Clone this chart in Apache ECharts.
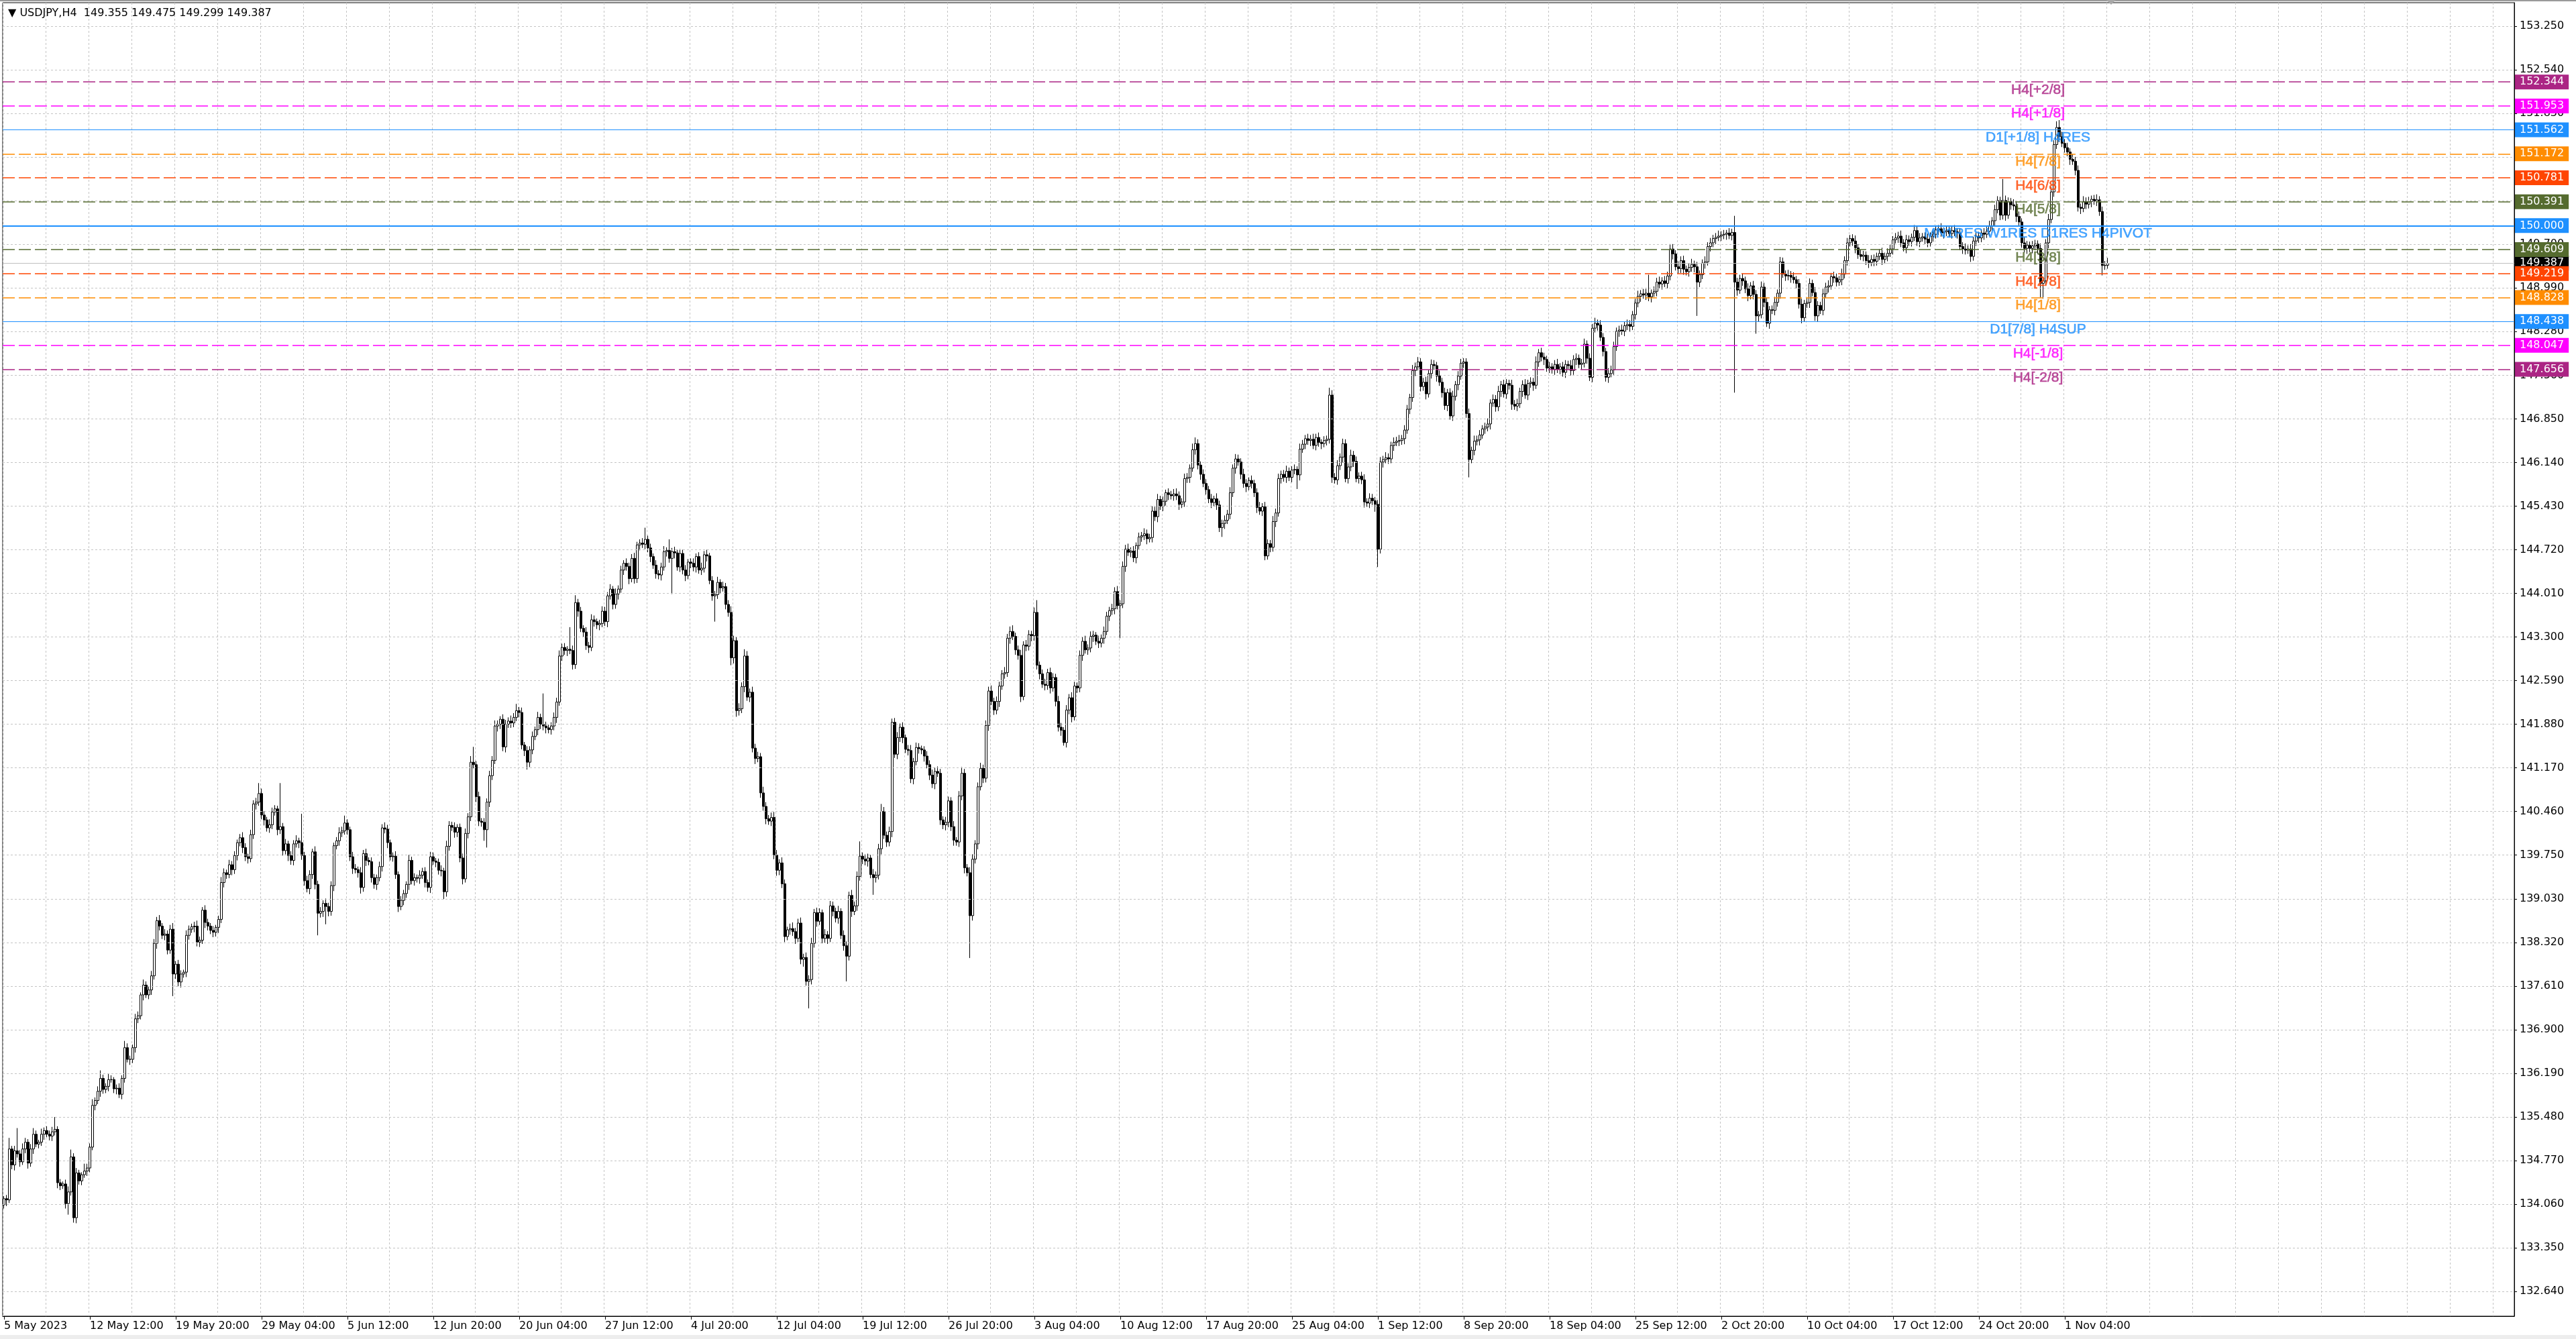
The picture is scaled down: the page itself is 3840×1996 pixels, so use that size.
<!DOCTYPE html>
<html>
<head>
<meta charset="utf-8">
<title>USDJPY,H4</title>
<script src="https://cdn.jsdelivr.net/npm/echarts@6.0.0/dist/echarts.min.js"></script>
<style>
html,body{margin:0;padding:0;background:#fff;}
#main{width:3840px;height:1996px;}
</style>
</head>
<body>
<div id="main"></div>
<script>
// last bar O H L C (header)
var lastBar = [149.355, 149.475, 149.299, 149.387];
var firstOpen = 134.05;

// H4 closes, 32 bars per line (one x label step)
var closes = [
134.15,134.13,134.96,134.70,134.93,134.88,134.75,134.96,135.07,134.73,134.96,135.20,135.04,135.07,135.20,135.26,135.20,135.17,135.24,135.28,134.41,134.36,134.39,134.07,134.26,134.83,133.84,134.57,134.44,134.54,134.60,134.65,
134.99,135.67,135.75,135.90,136.11,135.93,135.98,136.09,136.09,135.94,135.95,135.85,136.11,136.61,136.42,136.42,136.61,137.08,137.13,137.47,137.63,137.47,137.55,137.78,138.31,138.68,138.59,138.44,138.46,138.20,138.54,137.81,
137.97,137.68,137.81,137.84,138.44,138.54,138.58,138.59,138.33,138.36,138.85,138.65,138.59,138.52,138.49,138.57,138.70,139.30,139.46,139.43,139.59,139.51,139.74,139.95,140.03,139.87,139.72,139.69,140.08,140.58,140.61,140.75,
140.40,140.32,140.19,140.24,140.45,140.50,140.16,140.21,139.82,139.93,139.74,139.66,139.93,139.98,139.95,139.74,139.33,139.20,139.43,139.80,139.27,138.80,138.83,138.96,138.91,138.83,139.25,139.90,139.98,140.11,140.14,140.27,
140.16,139.72,139.53,139.51,139.46,139.22,139.77,139.66,139.64,139.38,139.27,139.38,139.56,140.19,140.17,139.95,139.72,139.73,139.43,138.91,139.01,139.12,139.27,139.66,139.33,139.38,139.37,139.42,139.48,139.30,139.22,139.72,
139.65,139.63,139.50,139.49,139.15,139.89,140.23,140.20,140.12,140.20,139.70,139.36,140.10,140.37,141.26,141.22,140.70,140.30,140.28,140.16,140.61,141.04,141.29,141.85,141.88,141.96,141.51,141.88,141.93,141.90,141.99,142.10,
142.07,141.54,141.45,141.26,141.46,141.68,141.79,141.99,141.88,141.85,141.82,141.79,141.85,141.99,142.24,142.99,143.13,143.08,143.10,143.08,142.85,143.86,143.72,143.44,143.38,143.16,143.13,143.58,143.55,143.50,143.52,143.72,
143.55,143.97,144.08,143.83,144.00,144.08,144.39,144.50,144.45,144.25,144.58,144.25,144.80,144.83,144.81,144.89,144.75,144.61,144.47,144.33,144.31,144.44,144.69,144.71,144.58,144.69,144.67,144.44,144.66,144.39,144.30,144.52,
144.50,144.44,144.61,144.39,144.42,144.64,144.62,144.22,143.97,143.99,144.19,144.10,144.12,143.83,143.70,142.96,143.24,142.10,142.13,142.49,142.99,142.32,142.40,141.49,141.32,141.35,140.76,140.54,140.34,140.30,140.36,139.75,
139.50,139.62,139.28,138.42,138.53,138.55,138.50,138.39,138.64,138.05,138.08,137.69,137.72,138.31,138.81,138.67,138.81,138.39,138.45,138.39,138.92,138.83,138.72,138.83,138.44,138.27,138.10,139.09,138.83,138.92,139.40,139.73,
139.68,139.65,139.70,139.43,139.38,139.42,139.85,140.46,140.07,139.96,140.13,141.91,141.39,141.66,141.83,141.66,141.47,141.45,140.99,141.27,141.50,141.48,141.46,141.36,141.22,141.05,140.91,141.11,141.08,140.32,140.24,140.28,
140.63,140.21,139.99,139.96,140.71,141.08,139.54,139.46,138.76,139.68,139.93,140.86,141.16,141.00,141.86,142.42,142.25,142.11,142.25,142.50,142.70,142.72,143.28,143.39,143.31,143.09,143.00,142.33,143.17,143.15,143.34,143.32,
143.70,142.84,142.70,142.53,142.51,142.72,142.47,142.64,142.25,141.83,141.78,141.58,142.11,142.31,142.00,142.50,142.47,143.00,143.23,143.09,143.12,143.31,143.33,143.23,143.20,143.28,143.39,143.64,143.73,143.76,144.04,143.81,
143.84,144.45,144.73,144.68,144.70,144.59,144.79,144.93,144.95,144.98,144.90,144.92,145.35,145.26,145.54,145.43,145.51,145.65,145.62,145.60,145.63,145.60,145.46,145.50,145.88,145.90,146.05,146.35,146.45,146.10,145.95,145.80,
145.70,145.55,145.49,145.55,145.45,145.08,145.15,145.20,145.30,145.65,146.05,146.20,146.15,145.95,145.80,145.75,145.85,145.80,145.65,145.41,145.35,145.42,144.62,144.82,144.76,145.18,145.32,145.88,145.95,145.90,146.00,145.90,
146.02,146.03,145.94,146.36,146.44,146.53,146.50,146.52,146.42,146.55,146.47,146.45,146.50,146.52,147.24,145.90,145.86,146.09,146.23,146.45,145.88,146.07,146.26,146.16,145.88,145.92,145.86,145.50,145.48,145.56,145.52,145.46,
144.73,146.15,146.19,146.22,146.20,146.42,146.47,146.49,146.50,146.53,146.67,147.01,147.20,147.64,147.70,147.78,147.38,147.45,147.26,147.59,147.74,147.72,147.55,147.45,147.28,147.07,147.28,146.90,147.22,147.41,147.55,147.76,
147.78,146.94,146.19,146.34,146.49,146.51,146.59,146.69,146.72,146.77,147.11,147.17,147.05,147.30,147.41,147.26,147.43,147.40,147.09,147.06,147.10,147.30,147.41,147.24,147.43,147.45,147.40,147.78,147.93,147.86,147.82,147.68,
147.70,147.66,147.74,147.66,147.70,147.61,147.74,147.72,147.64,147.82,147.84,147.74,147.76,148.07,147.84,147.53,148.33,148.41,148.38,148.18,147.95,147.53,147.59,147.65,148.03,148.28,148.30,148.28,148.37,148.39,148.36,148.55,
148.74,148.85,148.89,148.87,148.90,148.84,148.90,148.93,149.08,149.05,149.10,149.06,149.18,149.62,149.54,149.33,149.30,149.43,149.29,149.25,149.32,149.37,149.33,149.08,149.20,149.39,149.41,149.66,149.72,149.79,149.81,149.83,
149.85,149.86,149.88,149.84,149.89,149.08,148.95,149.14,149.10,148.97,148.86,149.02,148.88,148.53,148.55,149.00,148.75,148.41,148.63,148.62,148.75,148.90,149.41,149.21,149.18,149.19,149.16,149.12,149.06,148.72,148.50,148.73,
148.75,149.06,148.91,148.53,148.70,148.62,148.89,149.00,149.02,149.17,149.15,149.08,149.12,149.21,149.43,149.72,149.79,149.75,149.64,149.53,149.50,149.52,149.43,149.40,149.45,149.42,149.50,149.55,149.45,149.50,149.55,149.62,
149.77,149.80,149.83,149.72,149.64,149.77,149.74,149.81,149.92,149.74,149.80,149.82,149.78,149.72,149.83,149.86,149.93,149.95,149.88,149.90,149.92,149.87,149.92,149.90,149.88,149.66,149.62,149.60,149.62,149.50,149.75,149.83,
149.80,149.88,149.86,149.91,149.99,150.08,150.26,150.41,150.17,150.41,150.17,150.39,150.34,150.32,150.15,150.06,149.72,149.63,149.68,149.63,149.67,149.70,149.63,149.06,149.10,149.72,150.10,150.55,151.32,151.60,151.45,151.34,
151.27,151.20,151.08,151.05,150.90,150.30,150.28,150.39,150.35,150.39,150.43,150.40,150.42,150.23,149.35,149.355,149.387
];

// upper / lower shadows in pips (0.01)
var hiWick = [
4,6,18,5,8,37,6,9,7,5,8,10,6,4,9,5,7,6,8,20,5,6,4,7,9,12,6,8,5,4,12,7,
6,10,5,8,13,6,5,9,7,4,6,8,5,11,7,6,5,8,7,4,9,6,5,8,7,6,9,5,8,6,7,10,
5,7,6,4,8,6,5,7,9,6,5,8,6,5,7,4,6,9,7,5,8,6,7,5,6,9,7,5,8,6,7,17,
8,6,5,9,7,6,5,71,6,8,5,7,6,9,5,47,6,8,7,5,9,6,7,5,8,6,7,5,6,9,7,12,
6,5,8,7,5,9,6,8,5,7,6,5,8,6,9,7,5,6,8,5,7,6,5,9,6,7,5,8,6,7,5,8,
7,5,6,8,5,9,7,6,8,5,6,7,8,6,10,25,6,8,5,7,6,8,7,9,6,5,8,7,6,9,7,11,
6,8,5,7,6,8,5,9,6,50,7,5,6,8,7,9,6,7,5,36,8,12,6,7,5,8,6,9,7,5,6,8,
7,6,8,5,9,6,7,5,8,6,7,9,5,6,8,19,6,7,5,8,6,7,9,5,18,6,8,5,7,6,8,5,
6,8,5,7,9,6,8,5,7,6,9,5,8,6,7,10,8,6,9,7,11,8,6,9,7,8,6,10,7,6,8,9,
8,6,9,7,5,8,10,6,7,9,6,8,7,9,6,8,7,5,9,6,8,7,6,9,5,8,7,6,9,7,8,24,
6,8,7,5,9,6,8,12,7,6,8,6,7,9,6,8,5,7,9,6,8,7,5,6,8,7,9,6,8,7,6,9,
7,6,9,5,8,10,7,6,9,8,6,7,9,6,8,7,9,6,8,7,6,9,7,8,10,6,7,9,6,8,7,6,
8,20,6,7,9,6,8,7,6,9,7,5,8,6,9,7,6,8,7,9,6,8,7,5,9,6,8,7,6,8,7,9,
6,8,7,9,6,8,5,7,6,9,7,6,8,7,9,6,8,5,7,6,8,9,7,6,8,7,6,10,10,7,6,8,
7,6,8,5,9,7,6,8,7,9,6,8,7,6,9,7,5,8,6,7,9,6,8,7,6,9,7,8,6,7,9,6,
6,8,5,9,7,6,8,7,9,6,8,5,7,6,12,8,7,9,6,8,7,6,9,7,8,6,7,9,6,8,7,6,
7,8,6,9,7,6,8,7,9,6,8,7,6,9,7,8,6,7,9,6,8,7,6,9,7,8,6,7,9,6,8,7,
6,6,8,6,9,7,8,6,7,9,6,8,7,9,6,8,7,6,9,7,8,6,7,9,6,8,7,9,6,8,7,6,
8,6,7,9,6,8,7,6,9,7,8,6,7,9,6,8,7,9,6,8,7,6,9,7,8,6,7,9,6,8,7,6,
7,9,6,8,7,30,6,8,7,9,6,8,7,8,8,6,9,7,8,6,7,9,6,8,7,6,9,7,8,6,7,9,
6,7,5,8,6,27,7,6,8,7,9,6,8,7,6,9,7,8,6,7,9,6,8,7,6,9,7,8,6,7,9,6,
7,8,6,9,7,6,8,7,9,6,8,7,6,9,7,8,6,7,9,6,8,7,6,9,7,8,6,7,9,6,8,7,
6,8,7,9,6,8,7,6,9,7,8,6,7,9,6,8,7,6,9,7,8,6,7,9,6,8,7,9,6,8,7,6,
7,6,8,7,9,6,8,7,6,35,8,7,6,9,7,8,6,9,7,6,8,7,6,8,7,6,9,8,7,10,12,8,
7,8,6,9,7,8,6,9,7,8,6,7,9,6,8,7,8.8
];
var loWick = [
6,10,5,7,9,6,8,5,7,9,6,8,5,7,6,9,5,7,8,6,9,7,5,8,18,6,8,9,6,7,5,8,
7,5,8,6,9,7,6,8,5,7,9,6,8,7,5,9,6,8,7,6,9,5,7,8,6,9,7,6,8,7,6,36,
8,7,9,6,8,7,6,9,7,8,6,9,7,6,8,7,9,6,8,7,6,9,7,8,6,9,7,8,6,7,9,6,
7,9,6,8,7,6,9,7,8,6,9,7,8,6,9,7,8,6,9,7,8,36,7,9,29,8,7,9,6,8,7,6,
8,7,9,6,8,10,7,9,6,8,7,9,6,8,7,9,6,8,7,9,6,8,7,9,6,8,7,9,6,8,7,9,
6,8,7,9,12,8,7,6,9,8,7,9,6,8,7,6,9,8,7,18,29,8,7,6,9,8,7,9,6,8,7,6,
8,7,9,12,8,7,6,9,8,7,9,6,8,7,9,6,8,7,9,6,8,7,9,6,8,7,9,6,8,7,9,6,
7,9,6,8,7,9,6,8,7,9,6,8,7,9,6,8,7,9,6,8,7,9,6,8,7,58,9,6,8,7,9,6,
8,7,9,6,8,7,9,6,8,42,7,9,6,8,7,12,9,10,8,7,9,6,8,7,9,6,8,7,9,6,8,7,
9,8,7,9,6,8,7,9,6,8,12,7,44,8,7,9,6,8,7,9,6,8,7,9,6,8,41,7,9,6,8,7,
8,7,9,6,28,8,7,9,6,8,7,9,6,8,7,9,6,8,7,9,6,8,7,9,6,8,7,9,6,8,7,9,
8,7,9,6,8,7,9,6,69,8,7,9,6,8,7,9,6,8,7,9,6,8,7,9,6,8,7,9,6,8,7,9,
8,7,9,6,8,7,9,6,8,7,9,5,8,7,9,6,8,7,9,6,8,7,9,6,8,7,9,6,8,7,9,6,
53,7,9,6,8,7,9,6,8,7,9,6,8,7,9,6,8,7,9,6,8,7,9,6,8,7,9,6,8,7,9,6,
8,7,9,6,8,7,15,9,6,8,7,9,6,8,7,9,6,8,7,9,6,8,7,6,8,7,9,6,8,7,9,6,
8,7,23,9,6,8,7,9,6,8,7,9,6,8,7,9,6,8,7,9,6,8,7,9,6,8,7,9,6,8,7,12,
29,7,9,6,8,7,9,6,8,7,9,6,8,7,9,6,8,7,9,6,8,7,9,6,8,7,9,6,8,7,9,6,
8,7,29,6,8,7,9,6,8,7,9,6,8,7,9,6,8,7,9,6,8,7,9,6,8,7,9,6,8,7,9,6,
8,7,9,6,8,7,9,6,8,7,9,6,8,7,9,6,8,7,9,6,8,7,9,6,8,7,9,6,8,7,9,6,
8,7,9,6,8,7,9,6,8,7,9,6,8,7,9,6,8,7,9,6,8,7,9,55,8,7,9,6,8,7,9,6,
8,7,9,6,8,180,9,6,8,7,9,6,8,29,9,6,8,6,9,6,8,7,9,6,8,7,9,6,8,7,9,6,
7,9,6,8,10,6,8,7,9,6,8,7,6,9,7,8,6,8,9,7,6,8,7,9,6,8,7,6,9,7,8,6,
9,6,8,7,6,9,7,8,6,7,9,6,8,7,6,9,7,8,6,9,7,6,8,7,9,6,8,7,6,9,7,8,
8,7,9,6,8,7,9,6,8,7,9,6,8,7,9,6,8,7,9,6,8,7,9,23,25,7,9,6,8,7,9,6,
8,7,9,6,8,7,9,6,8,7,9,6,8,7,16,7,5.6
];

var xLabels = ['5 May 2023','12 May 12:00','19 May 20:00','29 May 04:00','5 Jun 12:00','12 Jun 20:00','20 Jun 04:00','27 Jun 12:00','4 Jul 20:00','12 Jul 04:00','19 Jul 12:00','26 Jul 20:00','3 Aug 04:00','10 Aug 12:00','17 Aug 20:00','25 Aug 04:00','1 Sep 12:00','8 Sep 20:00','18 Sep 04:00','25 Sep 12:00','2 Oct 20:00','10 Oct 04:00','17 Oct 12:00','24 Oct 20:00','1 Nov 04:00'];
var yTicks = [132.64,133.35,134.06,134.77,135.48,136.19,136.90,137.61,138.32,139.03,139.75,140.46,141.17,141.88,142.59,143.30,144.01,144.72,145.43,146.14,146.85,147.56,148.28,148.99,149.70,150.41,151.12,151.83,152.54,153.25];

// Murrey / pivot levels
var levelValues = [152.344,151.953,151.562,151.172,150.781,150.391,150.000,149.609,149.219,148.828,148.438,148.047,147.656];
var levelNames = ['H4[+2/8]','H4[+1/8]','D1[+1/8] H4RES','H4[7/8]','H4[6/8]','H4[5/8]','MN1RES W1RES D1RES H4PIVOT','H4[3/8]','H4[2/8]','H4[1/8]','D1[7/8] H4SUP','H4[-1/8]','H4[-2/8]'];
var levelLabelBar = 758;

var levelColors = ['#AB2584','#FF00FF','#1E90FF','#FF8C00','#FF4500','#556B2F','#1E90FF','#556B2F','#FF4500','#FF8C00','#1E90FF','#FF00FF','#AB2584'];
var levelSolid = [false,false,true,false,false,false,true,false,false,false,true,false,false];
var levelWidth = [1.5,1.5,1.2,1.5,1.5,1.5,2,1.5,1.5,1.5,1.2,1.5,1.5];

var slots = 936;
var FONT = 'DejaVu Sans';

var cats = [];
for (var i = 0; i < slots; i++) cats.push(String(i));

var candles = closes.map(function(c, i){
    var o = i ? closes[i-1] : firstOpen;
    return [o, c, Math.min(o, c) - (loWick[i] || 0) / 100, Math.max(o, c) + (hiWick[i] || 0) / 100];
});

function tag(v, bg){
    return {
        show: true, position: 'end', distance: 1,
        formatter: v.toFixed(3),
        color: '#fff', backgroundColor: bg,
        fontFamily: FONT, fontSize: 16, padding: [3, 7, 3, 7]
    };
}

var levelLines = [{
    yAxis: lastBar[3],
    lineStyle: {color: '#C0C0C0', type: 'solid', width: 1.2},
    label: tag(lastBar[3], '#000')
}];
levelValues.forEach(function(v, i){
    levelLines.push({
        yAxis: v,
        lineStyle: {color: levelColors[i], type: levelSolid[i] ? 'solid' : [18, 6], width: levelWidth[i], opacity: 1},
        label: tag(v, levelColors[i])
    });
});

var levelText = levelValues.map(function(v, i){
    return {
        value: [levelLabelBar, v], name: levelNames[i],
        label: {color: levelColors[i], textBorderColor: levelColors[i], textBorderWidth: 0.6}
    };
});

var myChart = echarts.init(document.getElementById('main'));

var opt = {
    animation: false,
    backgroundColor: '#fff',
    title: {
        text: '\u25BC USDJPY,H4  ' + lastBar.map(function(v){return v.toFixed(3);}).join(' '),
        left: 12, top: 12, padding: 0,
        textStyle: {fontFamily: FONT, fontSize: 16, fontWeight: 'normal', color: '#000'}
    },
    grid: {left: 4, right: 92, top: 4, bottom: 34, show: true, borderColor: '#000', borderWidth: 1},
    xAxis: [{
        type: 'category',
        data: cats,
        boundaryGap: true,
        axisLine: {lineStyle: {color: '#000', width: 1}},
        axisTick: {
            show: true, alignWithLabel: true, length: 5,
            interval: function(i){ return i % 32 === 0 && i / 32 < xLabels.length; },
            lineStyle: {color: '#000'}
        },
        axisLabel: {
            interval: function(i){ return i % 32 === 0 && i / 32 < xLabels.length; },
            formatter: function(v){ return xLabels[Math.round(+v / 32)] || ''; },
            align: 'left', margin: 7, color: '#000',
            fontFamily: FONT, fontSize: 16
        },
        splitLine: {
            show: true,
            interval: function(i){ return i % 16 === 0; },
            lineStyle: {color: '#C4C4C4', type: [3, 3], width: 1}
        }
    }],
    yAxis: [{
        type: 'value',
        position: 'right',
        min: 132.236, max: 153.632,
        axisLine: {show: true, lineStyle: {color: '#000'}},
        axisTick: {show: true, length: 4, customValues: yTicks, lineStyle: {color: '#000'}},
        axisLabel: {
            customValues: yTicks,
            formatter: function(v){ return (+v).toFixed(3); },
            margin: 8, color: '#000', fontFamily: FONT, fontSize: 16
        },
        splitLine: {show: false}
    }],
    series: [
        {
            // horizontal grid
            type: 'line', data: [], silent: true, z: 1,
            markLine: {
                silent: true, symbol: 'none', animation: false,
                label: {show: false},
                lineStyle: {color: '#C4C4C4', type: [3, 3], width: 1},
                data: yTicks.map(function(v){ return {yAxis: v}; })
            }
        },
        {
            type: 'candlestick',
            data: candles,
            large: false,
            barWidth: 3,
            z: 3,
            itemStyle: {color: '#fff', color0: '#000', borderColor: '#000', borderColor0: '#000', borderWidth: 1}
        },
        {
            type: 'line', data: [], silent: true, z: 4,
            markLine: {silent: true, symbol: 'none', animation: false, data: levelLines}
        },
        {
            type: 'scatter', data: levelText, silent: true, z: 5,
            symbolSize: 1,
            itemStyle: {color: 'rgba(0,0,0,0)'},
            label: {
                show: true, position: 'bottom', distance: 1,
                formatter: function(p){ return p.name; },
                fontFamily: 'Liberation Sans', fontSize: 21
            }
        }
    ],
    graphic: [
        {type: 'rect', shape: {x: 0, y: 0, width: 3840, height: 2}, style: {fill: '#9A9A9A'}, silent: true},
        {type: 'rect', shape: {x: 0, y: 1990, width: 3840, height: 6}, style: {fill: '#EDEDED'}, silent: true},
        {type: 'polygon', shape: {points: [[3140, 0], [3154, 0], [3147, 7]]}, style: {fill: '#A8A8A8'}, silent: true}
    ]
};

myChart.setOption(opt);
</script>
</body>
</html>
